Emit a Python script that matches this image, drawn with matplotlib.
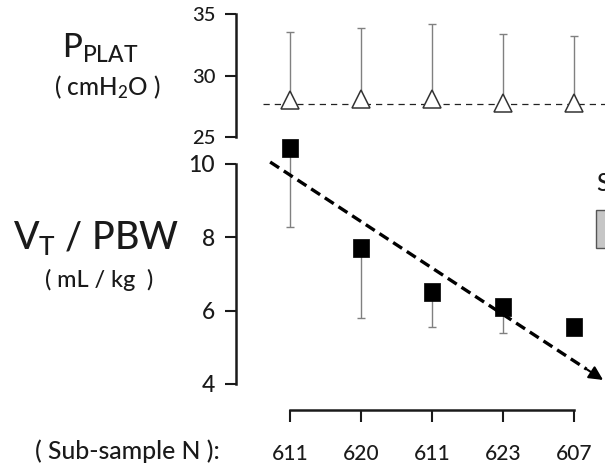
import numpy as np
import matplotlib
matplotlib.use('Agg')
import matplotlib.pyplot as plt
from matplotlib.patches import Rectangle
from matplotlib.path import Path

# ---------------- data ----------------
subsample_n = ['611', '620', '611', '623', '607']
x_pos = [1, 2, 3, 4, 5]
pplat_mean = [28.0, 28.1, 28.1, 27.8, 27.8]
pplat_upper = [33.5, 33.9, 34.2, 33.4, 33.2]
pplat_ref = 27.65
pplat_ref_x = [0.62, 5.44]
vt_mean = [10.44, 7.72, 6.51, 6.10, 5.55]
vt_lower = [8.28, 5.79, 5.56, 5.40, np.nan]
trend_x = [0.72, 5.41]
trend_y = [10.05, 4.11]
pplat_ticks = [25, 30, 35]
vt_ticks = [4, 6, 8, 10]

# ---------------- style ----------------
plt.rcParams['font.family'] = ['Lato', 'DejaVu Sans']
plt.rcParams['font.weight'] = 500
plt.rcParams['mathtext.fontset'] = 'custom'
plt.rcParams['mathtext.rm'] = 'Lato:medium'
plt.rcParams['mathtext.it'] = 'Lato:medium'
plt.rcParams['mathtext.bf'] = 'Lato:bold'
plt.rcParams['mathtext.default'] = 'regular'

TXT = '#1a1a1a'
SPINE = '#1a1a1a'

W, H = 605, 466
fig = plt.figure(figsize=(W / 100, H / 100), dpi=100)


def fx(px):
    return px / W


def fy(py):
    return 1 - py / H


xlim = (0.239, 5.437)

ax_top = fig.add_axes([fx(236), fy(137), fx(605) - fx(236), fy(10) - fy(137)])
ax_bot = fig.add_axes([fx(236), fy(384), fx(605) - fx(236), fy(140) - fy(384)])

for ax, lsz in ((ax_top, 14.5), (ax_bot, 16.5)):
    ax.set_xlim(*xlim)
    ax.patch.set_alpha(0)
    for s in ('top', 'right'):
        ax.spines[s].set_visible(False)
    ax.spines['left'].set_linewidth(1.8)
    ax.spines['left'].set_color(SPINE)
    ax.tick_params(axis='y', direction='out', length=8, width=1.5, pad=7,
                   labelsize=lsz, colors=SPINE, labelcolor=TXT)

# top panel
ax_top.set_ylim(25, 35.33)
ax_top.spines['bottom'].set_visible(False)
ax_top.spines['left'].set_bounds(25, 35)
ax_top.set_yticks(pplat_ticks)
ax_top.set_xticks([])

pm = np.array(pplat_mean)
pu = np.array(pplat_upper)
ax_top.hlines(pplat_ref, pplat_ref_x[0], pplat_ref_x[1], colors='#222222',
              linewidth=0.9, linestyles=(0, (5, 4)), zorder=1, clip_on=False)
ax_top.errorbar(x_pos, pm, yerr=[np.zeros_like(pm), pu - pm], fmt='none',
                ecolor='#808080', elinewidth=1.0, capsize=3.2, capthick=1.0,
                zorder=2)
ax_top.plot(x_pos, pm, ls='none', marker='^', ms=13, mfc='white',
            mec='#333333', mew=1.1, zorder=3, clip_on=False)

# bottom panel
ax_bot.set_ylim(4, 10.65)
ax_bot.spines['left'].set_bounds(4, 10)
ax_bot.set_yticks(vt_ticks)
ax_bot.spines['bottom'].set_position(('outward', 18.7))
ax_bot.spines['bottom'].set_bounds(1, 5)
ax_bot.spines['bottom'].set_linewidth(1.8)
ax_bot.spines['bottom'].set_color(SPINE)
ax_bot.set_xticks(x_pos)
ax_bot.set_xticklabels(subsample_n)
ax_bot.tick_params(axis='x', direction='out', length=8.5, width=1.5, pad=16,
                   labelsize=15, colors=SPINE, labelcolor=TXT)

vm = np.array(vt_mean)
vl = np.array(vt_lower)
ok = ~np.isnan(vl)
xa = np.array(x_pos)
ax_bot.errorbar(xa[ok], vm[ok], yerr=[vm[ok] - vl[ok], np.zeros(ok.sum())],
                fmt='none', ecolor='#808080', elinewidth=1.0, capsize=3.2,
                capthick=1.0, zorder=2)
rect_marker = Path([(-0.85, -1), (0.85, -1), (0.85, 1), (-0.85, 1), (-0.85, -1)],
                   [Path.MOVETO, Path.LINETO, Path.LINETO, Path.LINETO, Path.CLOSEPOLY])
ax_bot.plot(x_pos, vm, ls='none', marker=rect_marker, ms=13.5, mfc='black',
            mec='black', mew=0.5, zorder=3, clip_on=False)

# trend arrow
frac = 0.95
mx = trend_x[0] + frac * (trend_x[1] - trend_x[0])
my = trend_y[0] + frac * (trend_y[1] - trend_y[0])
ax_bot.plot([trend_x[0], mx], [trend_y[0], my], color='black', lw=2.4,
            dashes=(3.2, 1.7), zorder=4, clip_on=False)
ax_bot.annotate('', xy=(trend_x[1], trend_y[1]), xytext=(mx, my),
                arrowprops=dict(arrowstyle='-|>', color='black', lw=1.5,
                                mutation_scale=21, shrinkA=0, shrinkB=0),
                zorder=5, annotation_clip=False)

# left labels
fig.text(fx(100), fy(58), r'P$_{\mathrm{PLAT}}$', fontsize=23.5, ha='center',
         va='baseline', color=TXT)
fig.text(fx(107), fy(95), r'( cmH$_{2}$O )', fontsize=17.5, ha='center',
         va='baseline', color=TXT)
fig.text(fx(96), fy(249), r'V$_{\mathrm{T}}$ / PBW', fontsize=27, ha='center',
         va='baseline', color=TXT)
fig.text(fx(99), fy(287), '( mL / kg  )', fontsize=16.8, ha='center',
         va='baseline', color=TXT)
fig.text(fx(35), fy(459), '( Sub-sample N ):', fontsize=17.8, ha='left',
         va='baseline', color=TXT)

# cropped legend remnants at right edge
fig.text(fx(596), fy(191), 'S', fontsize=17, ha='left', va='baseline', color=TXT)
fig.patches.append(Rectangle((fx(596), fy(248)), fx(40), fy(210) - fy(248),
                             transform=fig.transFigure, facecolor='#c6c6c6',
                             edgecolor='#555555', linewidth=1.0))

fig.savefig('out.png', dpi=100)
